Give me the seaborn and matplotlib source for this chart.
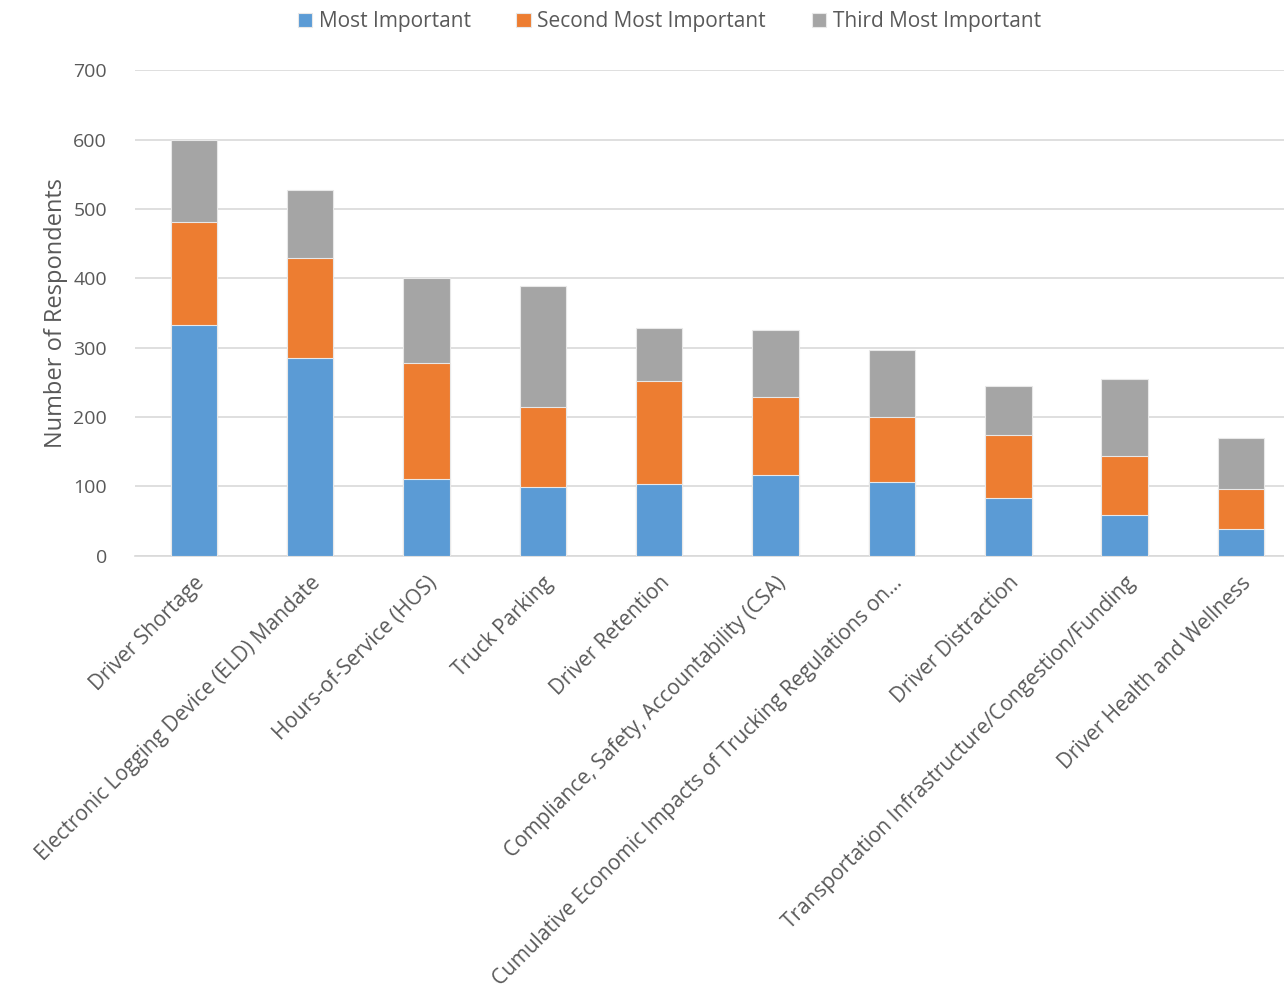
import numpy as np
import pandas as pd
import seaborn as sns
import matplotlib.pyplot as plt

categories = [
    "Driver Shortage",
    "Electronic Logging Device (ELD) Mandate",
    "Hours-of-Service (HOS)",
    "Truck Parking",
    "Driver Retention",
    "Compliance, Safety, Accountability (CSA)",
    "Cumulative Economic Impacts of Trucking Regulations on...",
    "Driver Distraction",
    "Transportation Infrastructure/Congestion/Funding",
    "Driver Health and Wellness",
]
most_important = [333, 285, 111, 99, 103, 116, 107, 83, 59, 39]
second_most = [148, 145, 167, 116, 149, 113, 93, 91, 85, 58]
third_most = [119, 98, 122, 174, 76, 97, 97, 71, 111, 73]
series_names = ["Most Important", "Second Most Important", "Third Most Important"]
colors = ["#5b9bd5", "#ed7d31", "#a5a5a5"]

df = pd.DataFrame({
    "category": categories,
    "m1": most_important,
    "m2": second_most,
    "m3": third_most,
})
# cumulative heights, drawn back to front
df["c1"] = df["m1"]
df["c2"] = df["m1"] + df["m2"]
df["c3"] = df["c2"] + df["m3"]

sns.set_style("white")
plt.rcParams["font.family"] = ["Open Sans", "DejaVu Sans"]

fig = plt.figure(figsize=(12.84, 9.89), dpi=100)
ax = fig.add_axes([0.105, 0.438, 0.895, 0.491])

for col, color, name in zip(["c3", "c2", "c1"], colors[::-1], series_names[::-1]):
    sns.barplot(data=df, x="category", y=col, color=color, width=0.4,
                saturation=1, ax=ax, label=name, zorder=3,
                edgecolor="#e8e8e8", linewidth=0.8)

ax.set_ylim(0, 700)
ax.set_yticks(range(0, 701, 100))
ax.set_xlim(-0.507, 9.37)
ax.grid(axis="y", color="#d9d9d9", linewidth=1.2, zorder=0)
ax.set_axisbelow(True)
for s in ["top", "right", "left"]:
    ax.spines[s].set_visible(False)
ax.spines["bottom"].set_color("#d9d9d9")
ax.spines["bottom"].set_linewidth(1.2)
ax.tick_params(axis="both", length=0, colors="#595959", labelsize=14)
ax.tick_params(axis="y", pad=20)
ax.set_xlabel("")
ax.set_ylabel("Number of Respondents", fontsize=17, color="#595959", labelpad=4)
ax.set_xticks(range(len(categories)))
ax.set_xticklabels(categories, rotation=45, ha="right", rotation_mode="anchor",
                   fontsize=15, color="#595959")
ax.tick_params(axis="x", pad=12)

handles, labels = ax.get_legend_handles_labels()
order = [labels.index(n) for n in series_names]
ax.legend([handles[i] for i in order], series_names, loc="upper center",
          bbox_to_anchor=(0.465, 1.16), ncol=3, frameon=False, fontsize=15,
          handlelength=0.7, handleheight=0.7, handletextpad=0.3,
          columnspacing=2.2, labelcolor="#595959")

fig.savefig("out.png", dpi=100)
